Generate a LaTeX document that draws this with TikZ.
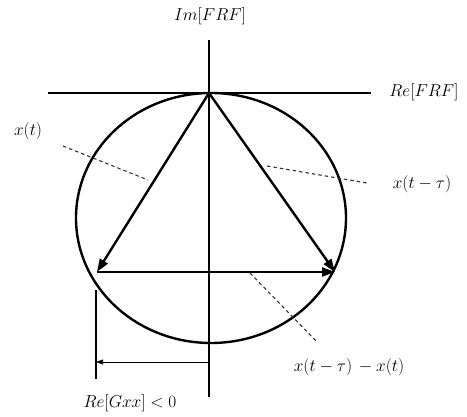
\documentclass[tikz,border=0pt]{standalone}
\usepackage{amsmath,amssymb}
\usepackage{tikz}
\usetikzlibrary{positioning,arrows.meta,calc}

\tikzset{
  axisline/.style={line width=1.6pt},
  vecline/.style={line width=2.4pt, -{Triangle[length=13pt,width=9pt]}},
  guide/.style={line width=1.1pt, dash pattern=on 3.5pt off 3pt, black!80},
  lbl/.style={inner sep=1pt, font=\fontsize{18}{21}\selectfont}
}

\begin{document}
\begin{tikzpicture}[x=1pt, y=-1pt, >=Stealth]
\useasboundingbox (0,0) rectangle (467,417);

% Axes
\coordinate (o) at (209,93);
\coordinate (imtop) at (209,40);
\coordinate (imbot) at (209,397);
\coordinate (releft) at (48,93);
\coordinate (reright) at (371,93);
\draw[axisline] (imtop) -- (imbot);
\draw[axisline] (releft) -- (reright);
\node[lbl] (imlbl) at (210,16) {$Im[FRF]$};
\node[lbl] (relbl) at (424,92) {$Re[FRF]$};

% Circle
\draw[line width=2.4pt] (211,218) ellipse [x radius=135, y radius=125];

% Vectors
\coordinate (xt) at (97,272);
\coordinate (xtau) at (335,272);
\draw[vecline] (o) -- (xt);
\draw[vecline] (o) -- (xtau);
\draw[vecline] (xt) -- (xtau);

% Pointers to labels
\node[lbl] (xtlbl) at (28,131) {$x(t)$};
\node[lbl] (xtaulbl) at (422,184) {$x(t-\tau)$};
\node[lbl] (difflbl) at (349,367) {$x(t-\tau)\,-x(t)$};
\coordinate (p1) at (63,146);
\coordinate (p2) at (148,180);
\coordinate (q1) at (267,166);
\coordinate (q2) at (367,183);
\coordinate (r1) at (250,273);
\coordinate (r2) at (317,342);
\draw[guide] (p1) -- (p2);
\draw[guide] (q1) -- (q2);
\draw[guide] (r1) -- (r2);

% Re[Gxx] marker
\coordinate (gtop) at (96,290);
\coordinate (gbot) at (96,379);
\draw[line width=1.4pt] (gtop) -- (gbot);
\draw[line width=0.6pt, -{Triangle[length=7pt,width=5pt]}] (209,362) -- (96,362);
\node[lbl] (gxxlbl) at (130,403) {$Re[Gxx]<0$};

\end{tikzpicture}
\end{document}
